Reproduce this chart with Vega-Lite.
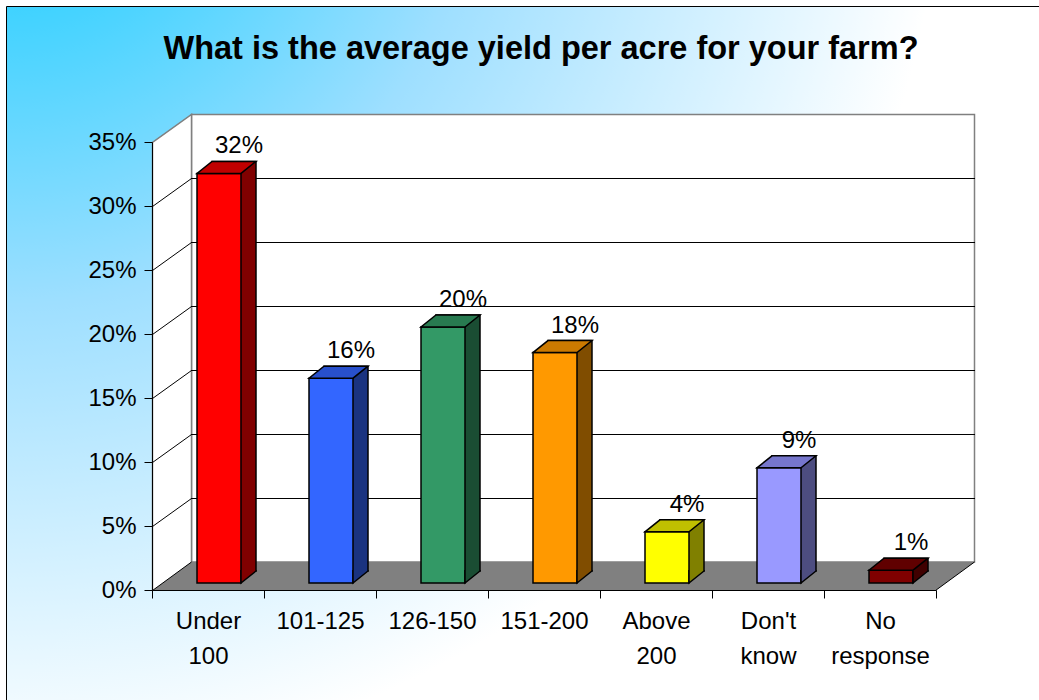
{
  "$schema": "https://vega.github.io/schema/vega-lite/v6.json",
  "width": 784,
  "height": 448,
  "autosize": {"type": "none"},
  "padding": {"left": 191, "top": 114, "right": 64, "bottom": 138},
  "background": "white",
  "config": {"font": "Liberation Sans", "view": {"stroke": null}},
  "title": {
    "text": "What is the average yield per acre for your farm?",
    "fontSize": 32.5, "fontWeight": "bold", "font": "Liberation Sans", "color": "black",
    "anchor": "middle", "frame": "group", "baseline": "alphabetic", "offset": -87, "dx": -42
  },
  "datasets": {
    "responses": [
      {"category": "Under 100", "value": 0.32},
      {"category": "101-125", "value": 0.16},
      {"category": "126-150", "value": 0.20},
      {"category": "151-200", "value": 0.18},
      {"category": "Above 200", "value": 0.04},
      {"category": "Don't know", "value": 0.09},
      {"category": "No response", "value": 0.01}
    ],
    "ticks": [
      {"value": 0.05}, {"value": 0.1}, {"value": 0.15}, {"value": 0.2}, {"value": 0.25}, {"value": 0.3}
    ]
  },
  "data": {"name": "responses"},
  "resolve": {"scale": {"fill": "independent"}},
  "layer": [
    {
      "transform": [{"filter": "datum.category === 'Under 100'"}],
      "mark": {"type": "point", "shape": "M -240.5 -555.5 L 799 -555.5 L 799 145 L -240.5 145 Z", "size": 4, "filled": true, "opacity": 1,
        "fill": {"gradient": "radial", "x1": 0, "y1": 0, "r1": 0, "x2": 0, "y2": 0, "r2": 1,
          "stops": [{"offset": 0, "color": "#0ACBFF"}, {"offset": 0.45, "color": "#9EDFFF"}, {"offset": 0.9, "color": "#FFFFFF"}, {"offset": 1, "color": "#FFFFFF"}]},
        "stroke": "black", "strokeWidth": 1},
      "encoding": {
        "x": {"field": "category", "type": "nominal", "sort": null},
        "y": {"datum": 0, "type": "quantitative"}
      }
    },
    {
      "transform": [{"filter": "datum.category === 'Under 100'"}],
      "mark": {"type": "point", "shape": "M -55.5 0 L 727.5 0 L 727.5 -447.5 L -55.5 -447.5 Z", "size": 4, "filled": true, "opacity": 1,
        "fill": "white", "stroke": "#808080", "strokeWidth": 1.5},
      "encoding": {
        "x": {"field": "category", "type": "nominal", "sort": null},
        "y": {"datum": 0, "type": "quantitative"}
      }
    },
    {
      "transform": [{"filter": "datum.category === 'Under 100'"}],
      "mark": {"type": "point", "shape": "M -94.5 28.5 L -94.5 -419.5 L -55.5 -447.5 L -55.5 0", "size": 4, "filled": true, "opacity": 1,
        "fill": "white", "stroke": "#808080", "strokeWidth": 1.5},
      "encoding": {
        "x": {"field": "category", "type": "nominal", "sort": null},
        "y": {"datum": 0, "type": "quantitative"}
      }
    },
    {
      "data": {"name": "ticks"},
      "mark": {"type": "rule", "color": "black", "strokeWidth": 1, "yOffset": 0.5, "opacity": 1},
      "encoding": {
        "y": {"field": "value", "type": "quantitative"}
      }
    },
    {
      "data": {"name": "ticks"},
      "mark": {"type": "rule", "color": "black", "strokeWidth": 1, "opacity": 1,
        "xOffset": -94.5, "x2Offset": -55.5, "yOffset": 28.5, "y2Offset": 0.5},
      "encoding": {
        "x": {"datum": "Under 100", "type": "nominal"},
        "x2": {"datum": "Under 100"},
        "y": {"field": "value", "type": "quantitative"},
        "y2": {"field": "value"}
      }
    },
    {
      "transform": [{"filter": "datum.category === 'Under 100'"}],
      "mark": {"type": "point", "shape": "M -55.5 0 L -94.5 28.5 L 688.5 28.5 L 727.5 0", "size": 4, "filled": true, "opacity": 1,
        "fill": "#808080", "stroke": "black", "strokeWidth": 1},
      "encoding": {
        "x": {"field": "category", "type": "nominal", "sort": null},
        "y": {"datum": 0, "type": "quantitative"}
      }
    },
    {
      "mark": {"type": "bar", "width": 44, "xOffset": -13, "yOffset": 9, "y2Offset": 9, "stroke": "black", "strokeWidth": 1.5, "opacity": 1},
      "encoding": {
        "x": {"field": "category", "type": "nominal", "sort": null},
        "y": {"field": "value", "type": "quantitative"},
        "fill": {"field": "category", "type": "nominal", "legend": null,
          "scale": {"domain": ["Under 100", "101-125", "126-150", "151-200", "Above 200", "Don't know", "No response"],
            "range": ["#800000", "#1A3380", "#1A4D33", "#804D00", "#808000", "#4D4D80", "#400000"]}}
      }
    },
    {
      "mark": {"type": "bar", "width": 44, "xOffset": -28, "yOffset": 21, "y2Offset": 21, "stroke": "black", "strokeWidth": 1.5, "opacity": 1},
      "encoding": {
        "x": {"field": "category", "type": "nominal", "sort": null,
          "scale": {"paddingInner": 0, "paddingOuter": 0},
          "axis": {"orient": "bottom", "title": null, "labelAngle": 0, "labelAlign": "center", "labelFontSize": 24, "labelColor": "black",
            "labelExpr": "split(datum.label, ' ')", "labelLineHeight": 35, "labelPadding": 11, "labelBaseline": "top",
            "tickSize": 8, "tickColor": "black", "domainColor": "black", "tickBand": "extent",
            "offset": 67, "translate": -38.5, "zindex": 1, "grid": false}},
        "y": {"field": "value", "type": "quantitative",
          "scale": {"domain": [0, 0.35], "nice": false},
          "axis": {"title": null, "values": [0, 0.05, 0.1, 0.15, 0.2, 0.25, 0.3, 0.35], "format": ".0%",
            "labelFontSize": 24, "labelColor": "black", "labelPadding": 8, "tickSize": 8, "tickColor": "black",
            "domainColor": "black", "grid": false, "offset": 67, "translate": 28.5, "zindex": 1}},
        "fill": {"field": "category", "type": "nominal", "legend": null,
          "scale": {"domain": ["Under 100", "101-125", "126-150", "151-200", "Above 200", "Don't know", "No response"],
            "range": ["#FF0000", "#3366FF", "#339966", "#FF9900", "#FFFF00", "#9999FF", "#800000"]}}
      }
    },
    {
      "mark": {"type": "point", "shape": "M -22 0 L 22 0 L 37 -12 L -7 -12 Z", "size": 4, "filled": true, "opacity": 1,
        "xOffset": -28, "yOffset": 21, "stroke": "black", "strokeWidth": 1.5},
      "encoding": {
        "x": {"field": "category", "type": "nominal", "sort": null},
        "y": {"field": "value", "type": "quantitative"},
        "fill": {"field": "category", "type": "nominal", "legend": null,
          "scale": {"domain": ["Under 100", "101-125", "126-150", "151-200", "Above 200", "Don't know", "No response"],
            "range": ["#C00000", "#2850CC", "#287A50", "#CC7A00", "#C0C000", "#7676CC", "#600000"]}}
      }
    },
    {
      "mark": {"type": "point", "shape": "M 22 -13 L 22 0 L 37 -12 L 37 -13", "size": 4, "filled": true, "opacity": 1,
        "xOffset": -28, "yOffset": 21, "stroke": "black", "strokeWidth": 1.5},
      "encoding": {
        "x": {"field": "category", "type": "nominal", "sort": null},
        "y": {"datum": 0, "type": "quantitative"},
        "fill": {"field": "category", "type": "nominal", "legend": null,
          "scale": {"domain": ["Under 100", "101-125", "126-150", "151-200", "Above 200", "Don't know", "No response"],
            "range": ["#800000", "#1A3380", "#1A4D33", "#804D00", "#808000", "#4D4D80", "#400000"]}}
      }
    },
    {
      "mark": {"type": "text", "fontSize": 24, "color": "black", "align": "center", "baseline": "alphabetic", "xOffset": -8, "yOffset": 1},
      "encoding": {
        "x": {"field": "category", "type": "nominal", "sort": null},
        "y": {"field": "value", "type": "quantitative"},
        "text": {"field": "value", "type": "quantitative", "format": ".0%"}
      }
    }
  ]
}
